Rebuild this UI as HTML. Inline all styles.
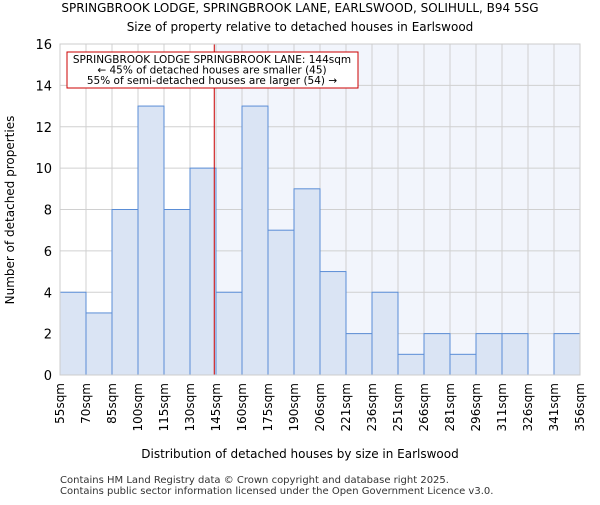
<!DOCTYPE html>
<html><head><meta charset="utf-8"><style>
body{margin:0;background:#fff;}
svg{font-family:"DejaVu Sans","Liberation Sans",sans-serif;}
</style></head><body>
<svg id="chart" width="600" height="500" xmlns="http://www.w3.org/2000/svg">
<text x="300" y="12" text-anchor="middle" font-size="12">SPRINGBROOK LODGE, SPRINGBROOK LANE, EARLSWOOD, SOLIHULL, B94 5SG</text>
<text x="300" y="31" text-anchor="middle" font-size="12">Size of property relative to detached houses in Earlswood</text>
<g id="plot"></g>
<text x="300" y="458" text-anchor="middle" font-size="12">Distribution of detached houses by size in Earlswood</text>
<text transform="translate(14,210) rotate(-90)" text-anchor="middle" font-size="12">Number of detached properties</text>
<text x="60" y="483" font-size="10" fill="#333">Contains HM Land Registry data © Crown copyright and database right 2025.</text>
<text x="60" y="494" font-size="10" fill="#333">Contains public sector information licensed under the Open Government Licence v3.0.</text>
</svg>
<script>
const binLabels=["55sqm","70sqm","85sqm","100sqm","115sqm","130sqm","145sqm","160sqm","175sqm","190sqm","206sqm","221sqm","236sqm","251sqm","266sqm","281sqm","296sqm","311sqm","326sqm","341sqm","356sqm"];
const binEdges=[55,70,85,100,115,130,145,160,175,190,206,221,236,251,266,281,296,311,326,341,356];
const counts=[4,3,8,13,8,10,4,13,7,9,5,2,4,1,2,1,2,2,0,2];
const yTicks=[0,2,4,6,8,10,12,14,16];
const markerValue=144;
const NS="http://www.w3.org/2000/svg";
const L=60,R=580,T=44,B=375,YMAX=16;
const n=counts.length;
const xi=i=>L+(R-L)*i/n;
const xv=v=>{for(let i=0;i<binEdges.length-1;i++){if(v<=binEdges[i+1])return xi(i)+(v-binEdges[i])/(binEdges[i+1]-binEdges[i])*(R-L)/n;}return R;};
const y=v=>B-(B-T)*v/YMAX;
const g=document.getElementById('plot');
function mk(t,a){const e=document.createElementNS(NS,t);for(const k in a)e.setAttribute(k,a[k]);g.appendChild(e);return e;}
const mx=xv(markerValue);
let e=mk('rect',{x:mx,y:T,width:R-mx,height:B-T,fill:'#f2f5fc'});


for(let i=0;i<=n;i++){e=mk('line',{x1:xi(i),x2:xi(i),y1:T,y2:B,stroke:'#d0d0d0','stroke-width':1});

}
yTicks.forEach(t=>{e=mk('line',{x1:L,x2:R,y1:y(t),y2:y(t),stroke:'#d0d0d0','stroke-width':1});


e=mk('text',{x:L-8,y:y(t)+5,'text-anchor':'end','font-size':13});e.textContent=t;

});
counts.forEach((c,i)=>{if(c<=0)return;e=mk('rect',{x:xi(i),y:y(c),width:xi(i+1)-xi(i),height:B-y(c),fill:'#dae4f4',stroke:'#5a8dd6','stroke-width':1});

});
binLabels.forEach((lb,i)=>{const px=xi(i);e=mk('text',{transform:`translate(${px+4},${B+8}) rotate(-90)`,'text-anchor':'end','font-size':12});e.textContent=lb;

});
e=mk('line',{x1:mx,x2:mx,y1:T,y2:B,stroke:'#cc0000','stroke-width':1});


e=mk('rect',{x:67,y:52,width:291,height:36,fill:'#fff',stroke:'#cc0000','stroke-width':1});


["SPRINGBROOK LODGE SPRINGBROOK LANE: 144sqm","← 45% of detached houses are smaller (45)","55% of semi-detached houses are larger (54) →"].forEach((s,k)=>{
e=mk('text',{x:212,y:63+k*10.5,'text-anchor':'middle','font-size':10.5});e.textContent=s;

});
e=mk('rect',{x:L,y:T,width:R-L,height:B-T,fill:'none',stroke:'#ccc'});


</script>
</body></html>
